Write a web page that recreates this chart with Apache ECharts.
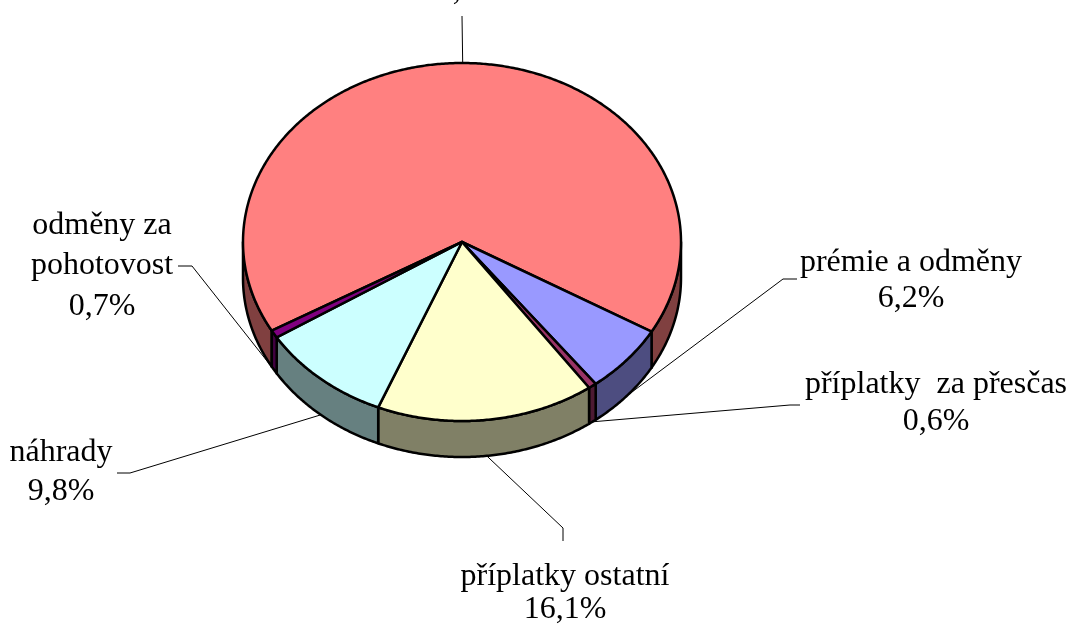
<!DOCTYPE html>
<html>
<head>
<meta charset="utf-8">
<script src="https://cdn.jsdelivr.net/npm/echarts@6/dist/echarts.min.js"></script>
<style>
html,body{margin:0;padding:0;background:#fff;}
#chart{width:1069px;height:624px;}
</style>
</head>
<body>
<div id="chart"></div>
<script>
// ---- data ----
const categories = ['tarifní mzda', 'prémie a odměny', 'příplatky  za přesčas', 'příplatky ostatní', 'náhrady', 'odměny za\npohotovost'];
const values = [66.6, 6.2, 0.6, 16.1, 9.8, 0.7];

// ---- styles ----
const topColors = ['#FF8080', '#9999FF', '#993366', '#FFFFCC', '#CCFFFF', '#800080'];
const sideColors = ['#804040', '#4D4D80', '#4D1A33', '#808066', '#668080', '#400040'];

// ---- layout (label positions) ----
const labelX = [462, 911, 936, 565, 61, 102];
const labelLineY = [[-46, -9], [263, 299], [385, 422], [577, 610], [453, 492], [226, 266, 307]];
const leaderEnds = [[[462, 16]], [[783, 279], [797, 279]], [[790, 405], [800, 405]], [[563, 528], [563, 541]], [[130, 473], [117, 473]], [[192, 266], [178, 266]]];

const CX = 462, CY = 242, RX = 219, RY = 179, DEPTH = 36;
const START_DEG = 150.3;
const FONT = '32px "Liberation Serif", "Times New Roman", serif';

const total = values.reduce((a, b) => a + b, 0);
function fmt(v) { return v.toFixed(1).replace('.', ',') + '%'; }
function pt(deg, dy) {
  const r = deg * Math.PI / 180;
  return [CX + RX * Math.cos(r), CY + RY * Math.sin(r) + (dy || 0)];
}
function arc(a, b, dy) {
  const pts = [];
  const n = Math.max(2, Math.ceil(Math.abs(b - a) / 0.5));
  for (let k = 0; k <= n; k++) pts.push(pt(a + (b - a) * k / n, dy));
  return pts;
}

function renderItem(params, api) {
  const i = params.dataIndex;
  let before = 0;
  for (let k = 0; k < i; k++) before += values[k];
  const a1 = START_DEG + before / total * 360;
  const span = api.value(0) / total * 360;
  const a2 = a1 + span;
  const children = [];
  // side walls (front half only)
  [[0, 180], [360, 540], [-360, -180]].forEach(([lo, hi]) => {
    const s = Math.max(a1, lo), e = Math.min(a2, hi);
    if (e > s) {
      const top = arc(s, e, 0);
      const bot = arc(e, s, DEPTH);
      children.push({
        type: 'polygon', z2: 1,
        shape: { points: top.concat(bot) },
        style: { fill: sideColors[i], stroke: '#000', lineWidth: 2.5, lineJoin: 'round' }
      });
    }
  });
  // top face
  children.push({
    type: 'polygon', z2: 10,
    shape: { points: [[CX, CY]].concat(arc(a1, a2, 0)) },
    style: { fill: topColors[i], stroke: '#000', lineWidth: 2.5, lineJoin: 'round' }
  });
  // leader line
  const mid = a1 + span / 2;
  const sinM = Math.sin(mid * Math.PI / 180);
  const start = pt(mid, sinM > 0 ? DEPTH : 0);
  children.push({
    type: 'polyline', z2: 20,
    shape: { points: [start].concat(leaderEnds[i]) },
    style: { stroke: '#000', lineWidth: 1, fill: null }
  });
  // label text
  const lines = categories[i].split('\n').concat([fmt(api.value(0))]);
  lines.forEach((t, j) => {
    children.push({
      type: 'text', z2: 30,
      style: {
        text: t, x: labelX[i], y: labelLineY[i][j],
        font: FONT, fill: '#000', align: 'center', verticalAlign: 'middle'
      }
    });
  });
  return { type: 'group', children };
}

const chart = echarts.init(document.getElementById('chart'), null, { renderer: 'canvas' });
chart.setOption({
  backgroundColor: '#ffffff',
  animation: false,
  series: [{
    type: 'custom',
    coordinateSystem: 'none',
    renderItem: renderItem,
    data: values.map((v, i) => ({ value: v, name: categories[i] }))
  }]
});
</script>
</body>
</html>
